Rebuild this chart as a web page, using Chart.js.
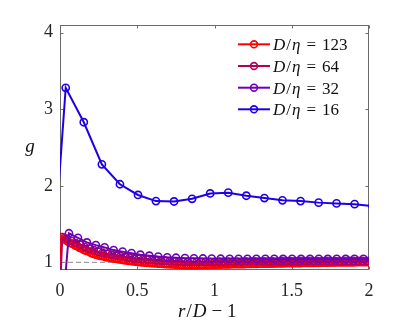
<!DOCTYPE html>
<html>
<head>
<meta charset="utf-8">
<script src="https://cdn.jsdelivr.net/npm/chart.js@4.4.1/dist/chart.umd.min.js"></script>
<style>
  html, body { margin: 0; padding: 0; background: #fff; }
  canvas { display: block; }
</style>
</head>
<body>
<canvas id="grafico" width="407" height="326"></canvas>
<script>
// ticks
const xTicks = [0, 0.5, 1, 1.5, 2];
const xTickLabels = ['0', '0.5', '1', '1.5', '2'];
const yTicks = [1, 2, 3, 4];
const yTickLabels = ['1', '2', '3', '4'];

// series names (D/eta)
const series = ['123', '64', '32', '16'];

// D/eta = 16
const r16 = [-0.080, 0.037, 0.154, 0.271, 0.388, 0.505, 0.621, 0.738, 0.855, 0.972,
  1.089, 1.206, 1.323, 1.440, 1.557, 1.674, 1.790, 1.907, 2.024];
const g16 = [0, 3.28, 2.83, 2.28, 2.02, 1.88, 1.80, 1.795, 1.83, 1.90,
  1.91, 1.87, 1.84, 1.81, 1.80, 1.78, 1.77, 1.76, 1.735];

// D/eta = 32
const r32 = [0.000, 0.058, 0.116, 0.174, 0.232, 0.289, 0.347, 0.405, 0.463, 0.520,
  0.578, 0.636, 0.694, 0.751, 0.809, 0.867, 0.925, 0.982, 1.040, 1.098,
  1.156, 1.213, 1.271, 1.329, 1.387, 1.444, 1.502, 1.560, 1.618, 1.675,
  1.733, 1.791, 1.849, 1.906, 1.964, 2.022];
const g32 = [0, 1.38, 1.32, 1.26, 1.225, 1.195, 1.16, 1.14, 1.12, 1.10,
  1.087, 1.075, 1.066, 1.06, 1.055, 1.052, 1.05, 1.048, 1.047, 1.046,
  1.046, 1.045, 1.045, 1.046, 1.045, 1.044, 1.045, 1.044, 1.044, 1.045,
  1.044, 1.045, 1.044, 1.045, 1.045, 1.045];

// D/eta = 64
const r64 = [-0.014, 0.015, 0.044, 0.073, 0.102, 0.131, 0.160, 0.189, 0.218, 0.247,
  0.276, 0.305, 0.334, 0.363, 0.392, 0.421, 0.450, 0.479, 0.508, 0.537,
  0.566, 0.595, 0.624, 0.653, 0.682, 0.711, 0.740, 0.769, 0.798, 0.827,
  0.856, 0.885, 0.914, 0.943, 0.972, 1.001, 1.030, 1.059, 1.088, 1.117,
  1.146, 1.175, 1.204, 1.233, 1.262, 1.291, 1.320, 1.349, 1.378, 1.407,
  1.436, 1.465, 1.494, 1.523, 1.552, 1.581, 1.610, 1.639, 1.668, 1.697,
  1.726, 1.755, 1.784, 1.813, 1.842, 1.871, 1.900, 1.929, 1.958, 1.987,
  2.016];
const g64 = [0, 1.33, 1.31, 1.28, 1.25, 1.23, 1.20, 1.18, 1.16, 1.14,
  1.125, 1.11, 1.10, 1.09, 1.08, 1.07, 1.06, 1.05, 1.045, 1.04,
  1.035, 1.03, 1.025, 1.02, 1.018, 1.015, 1.012, 1.01, 1.008, 1.007,
  1.006, 1.006, 1.005, 1.006, 1.007, 1.007, 1.008, 1.008, 1.009, 1.009,
  1.01, 1.01, 1.011, 1.011, 1.012, 1.012, 1.012, 1.013, 1.013, 1.013,
  1.014, 1.014, 1.014, 1.015, 1.015, 1.015, 1.015, 1.016, 1.016, 1.016,
  1.016, 1.017, 1.017, 1.017, 1.017, 1.018, 1.018, 1.018, 1.018, 1.018,
  1.018];

// D/eta = 123
const r123 = [-0.007, 0.008, 0.023, 0.038, 0.053, 0.068, 0.083, 0.098, 0.113, 0.128,
  0.143, 0.158, 0.173, 0.188, 0.203, 0.218, 0.233, 0.248, 0.263, 0.278,
  0.293, 0.308, 0.323, 0.338, 0.353, 0.368, 0.383, 0.398, 0.413, 0.428,
  0.443, 0.458, 0.473, 0.488, 0.503, 0.518, 0.533, 0.548, 0.563, 0.578,
  0.593, 0.608, 0.623, 0.638, 0.653, 0.668, 0.683, 0.698, 0.713, 0.728,
  0.743, 0.758, 0.773, 0.788, 0.803, 0.818, 0.833, 0.848, 0.863, 0.878,
  0.893, 0.908, 0.923, 0.938, 0.953, 0.968, 0.983, 0.998, 1.013, 1.028,
  1.043, 1.058, 1.073, 1.088, 1.103, 1.118, 1.133, 1.148, 1.163, 1.178,
  1.193, 1.208, 1.223, 1.238, 1.253, 1.268, 1.283, 1.298, 1.313, 1.328,
  1.343, 1.358, 1.373, 1.388, 1.403, 1.418, 1.433, 1.448, 1.463, 1.478,
  1.493, 1.508, 1.523, 1.538, 1.553, 1.568, 1.583, 1.598, 1.613, 1.628,
  1.643, 1.658, 1.673, 1.688, 1.703, 1.718, 1.733, 1.748, 1.763, 1.778,
  1.793, 1.808, 1.823, 1.838, 1.853, 1.868, 1.883, 1.898, 1.913, 1.928,
  1.943, 1.958, 1.973, 1.988, 2.003];
const g123 = [0, 1.33, 1.31, 1.29, 1.27, 1.25, 1.24, 1.22, 1.21, 1.19,
  1.18, 1.16, 1.15, 1.14, 1.12, 1.11, 1.10, 1.09, 1.085, 1.08,
  1.07, 1.065, 1.06, 1.055, 1.05, 1.045, 1.04, 1.035, 1.03, 1.025,
  1.02, 1.018, 1.014, 1.01, 1.007, 1.004, 1.0, 0.998, 0.995, 0.993,
  0.99, 0.988, 0.986, 0.984, 0.982, 0.98, 0.978, 0.976, 0.975, 0.973,
  0.972, 0.970, 0.969, 0.967, 0.966, 0.965, 0.965, 0.964, 0.964, 0.965,
  0.965, 0.966, 0.966, 0.967, 0.968, 0.969, 0.969, 0.970, 0.971, 0.972,
  0.972, 0.973, 0.974, 0.974, 0.975, 0.976, 0.976, 0.977, 0.977, 0.978,
  0.978, 0.979, 0.979, 0.980, 0.981, 0.981, 0.982, 0.982, 0.983, 0.983,
  0.984, 0.984, 0.985, 0.985, 0.986, 0.986, 0.987, 0.988, 0.988, 0.989,
  0.989, 0.990, 0.990, 0.991, 0.991, 0.992, 0.992, 0.993, 0.993, 0.994,
  0.994, 0.995, 0.995, 0.996, 0.996, 0.997, 0.997, 0.998, 0.998, 0.998,
  0.999, 0.999, 1.0, 1.0, 1.0, 1.001, 1.001, 1.001, 1.002, 1.002,
  1.002, 1.002, 1.003, 1.003, 1.003];

const cores = ['#ff0000', '#b4005a', '#6e00b4', '#1e00e6'];

function pontos(r, g) {
    return r.map((v, i) => ({ x: v, y: g[i] }));
}

function serie(label, r, g, cor, ordem) {
    return {
        label: label,
        data: pontos(r, g),
        borderColor: cor,
        borderWidth: 2,
        pointRadius: 3.6,
        pointBorderWidth: 1.6,
        pointBorderColor: cor,
        pointBackgroundColor: 'rgba(255,255,255,0)',
        order: ordem
    };
}

const serif = '"Liberation Serif", "DejaVu Serif", serif';

// text with italic pieces written one after the other (g = extra space before)
function texto(ctx, pedacos, x, y, tam) {
    let cx = x;
    ctx.textAlign = 'left';
    pedacos.forEach(p => {
        ctx.font = (p.i ? 'italic ' : '') + tam + 'px ' + serif;
        cx += (p.g || 0);
        ctx.fillText(p.t, cx, y);
        cx += ctx.measureText(p.t).width;
    });
}

const moldura = {
    id: 'moldura',
    beforeDatasetsDraw(chart) {
        const { ctx, chartArea: a, scales: { x, y } } = chart;
        ctx.save();
        ctx.strokeStyle = '#6a6a6a';
        ctx.lineWidth = 1;
        const L = Math.round(a.left) + 0.5, R = Math.round(a.right) - 0.5;
        const T = Math.round(a.top) + 0.5, B = Math.round(a.bottom) - 0.5;
        ctx.strokeRect(L, T, R - L, B - T);
        ctx.beginPath();
        xTicks.forEach(v => {
            const px = Math.round(x.getPixelForValue(v)) + 0.5;
            ctx.moveTo(px, B); ctx.lineTo(px, B - 3);
            ctx.moveTo(px, T); ctx.lineTo(px, T + 3);
        });
        yTicks.forEach(v => {
            const py = Math.round(y.getPixelForValue(v)) + 0.5;
            ctx.moveTo(L, py); ctx.lineTo(L + 3, py);
            ctx.moveTo(R, py); ctx.lineTo(R - 3, py);
        });
        ctx.stroke();
        ctx.restore();
    },
    afterDraw(chart) {
        const ctx = chart.ctx;
        ctx.save();
        ctx.fillStyle = '#111';
        ctx.textBaseline = 'alphabetic';

        // axis titles
        texto(ctx, [
            { t: 'r', i: true },
            { t: '/', g: 1 },
            { t: 'D', i: true, g: 1 },
            { t: '\u2212', g: 5 },
            { t: '1', g: 5 }
        ], 178, 317, 19);
        ctx.font = 'italic 19px ' + serif;
        ctx.textAlign = 'center';
        ctx.fillText('g', 30, 152);

        // legend
        const linhas = [44.3, 66, 87.7, 109.3];
        chart.data.datasets.forEach((ds, i) => {
            if (i >= series.length) return;
            const ly = linhas[i];
            ctx.strokeStyle = ds.borderColor;
            ctx.lineWidth = 2;
            ctx.beginPath();
            ctx.moveTo(238, ly); ctx.lineTo(270, ly);
            ctx.stroke();
            ctx.lineWidth = 1.6;
            ctx.beginPath();
            ctx.arc(254, ly, 3.4, 0, Math.PI * 2);
            ctx.stroke();
            texto(ctx, [
                { t: 'D', i: true },
                { t: '/', g: 1 },
                { t: '\u03b7', i: true, g: 1 },
                { t: '=', g: 6 },
                { t: series[i], g: 6 }
            ], 273, ly + 6, 17);
        });
        ctx.restore();
    }
};

const canva = document.getElementById('grafico').getContext('2d');
const grafico = new Chart(canva, {
    type: 'line',
    data: {
        datasets: [
            serie(series[0], r123, g123, cores[0], 4),
            serie(series[1], r64, g64, cores[1], 3),
            serie(series[2], r32, g32, cores[2], 2),
            serie(series[3], r16, g16, cores[3], 1),
            {
                label: 'g = 1',
                data: [{ x: 0, y: 1 }, { x: 2, y: 1 }],
                borderColor: '#8c8c8c',
                borderWidth: 1,
                borderDash: [5, 3],
                pointRadius: 0,
                order: 10
            }
        ]
    },
    options: {
        responsive: false,
        animation: false,
        events: [],
        layout: { padding: { top: 25, right: 38, left: 0, bottom: 0 } },
        plugins: { legend: { display: false }, tooltip: { enabled: false } },
        scales: {
            x: {
                type: 'linear',
                min: 0,
                max: 2,
                grid: { display: false, drawTicks: false },
                border: { display: false },
                afterBuildTicks: s => { s.ticks = xTicks.map(v => ({ value: v })); },
                afterFit: s => { s.height = 56; },
                ticks: {
                    padding: 10,
                    maxRotation: 0,
                    color: '#262626',
                    font: { family: serif, size: 18 },
                    callback: (v) => xTickLabels[xTicks.indexOf(v)]
                }
            },
            y: {
                type: 'linear',
                min: 0.9,
                max: 4.1,
                grid: { display: false, drawTicks: false },
                border: { display: false },
                afterBuildTicks: s => { s.ticks = yTicks.map(v => ({ value: v })); },
                afterFit: s => { s.width = 60; },
                ticks: {
                    padding: 7,
                    color: '#262626',
                    font: { family: serif, size: 18 },
                    callback: (v) => yTickLabels[yTicks.indexOf(v)]
                }
            }
        }
    },
    plugins: [moldura]
});
</script>
</body>
</html>
